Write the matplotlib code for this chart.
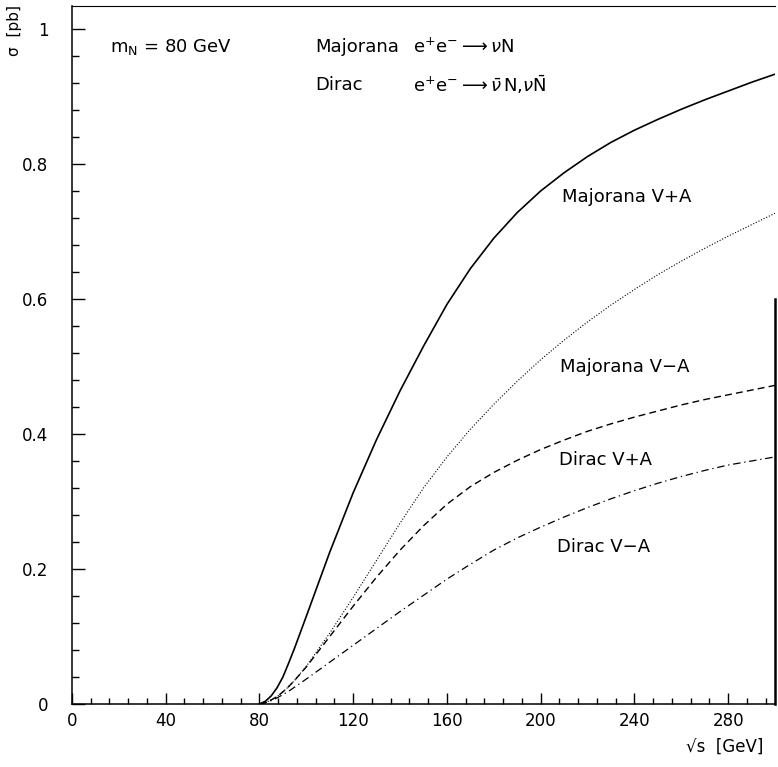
import matplotlib
matplotlib.use('Agg')
import matplotlib.pyplot as plt
from matplotlib.ticker import MultipleLocator

# === Data ===
sqrt_s = [80, 82.5, 85, 87.5, 90, 92.5, 95, 100, 110, 120, 130, 140, 150, 160, 170,
          180, 190, 200, 210, 220, 230, 240, 250, 260, 270, 280, 290, 300]
maj_va = [0, 0.004, 0.012, 0.024, 0.040, 0.061, 0.083, 0.130, 0.225, 0.313, 0.392,
          0.464, 0.530, 0.592, 0.645, 0.690, 0.728, 0.760, 0.787, 0.811, 0.832,
          0.850, 0.866, 0.881, 0.895, 0.908, 0.921, 0.933]
maj_vma = [0, 0.002, 0.006, 0.011, 0.018, 0.026, 0.035, 0.056, 0.105, 0.158, 0.213,
           0.268, 0.320, 0.366, 0.407, 0.444, 0.478, 0.510, 0.539, 0.566, 0.591,
           0.614, 0.636, 0.656, 0.675, 0.693, 0.710, 0.727]
dir_va = [0, 0.002, 0.006, 0.011, 0.018, 0.026, 0.035, 0.055, 0.100, 0.145, 0.188,
          0.228, 0.264, 0.296, 0.322, 0.343, 0.361, 0.377, 0.391, 0.404, 0.415,
          0.425, 0.434, 0.443, 0.451, 0.458, 0.465, 0.472]
dir_vma = [0, 0.002, 0.005, 0.009, 0.014, 0.019, 0.025, 0.037, 0.062, 0.087, 0.112,
           0.137, 0.161, 0.185, 0.207, 0.228, 0.246, 0.262, 0.277, 0.291, 0.304,
           0.316, 0.327, 0.337, 0.346, 0.354, 0.360, 0.366]

x_ticks = [0, 40, 80, 120, 160, 200, 240, 280]
y_ticks = [0, 0.2, 0.4, 0.6, 0.8, 1.0]
y_ticklabels = ['0', '0.2', '0.4', '0.6', '0.8', '1']

# === Style ===
plt.rcParams['font.family'] = ['DejaVu Sans']
plt.rcParams['mathtext.fontset'] = 'dejavusans'

fig = plt.figure(figsize=(7.78, 7.67), dpi=100)
ax = fig.add_axes([72 / 778, 1 - 704 / 767, 703 / 778, 698 / 767])

ax.plot(sqrt_s, maj_va, color='black', lw=1.2, ls='-')
ax.plot(sqrt_s, maj_vma, color='black', lw=0.8, ls=(0, (1, 1.6)))
ax.plot(sqrt_s, dir_va, color='black', lw=1.0, ls=(0, (5, 3)))
ax.plot(sqrt_s, dir_vma, color='black', lw=0.9, ls=(0, (6, 3, 1, 3)))

ax.set_xlim(0, 300)
ax.set_ylim(0, 1.034)

ax.set_xticks(x_ticks)
ax.xaxis.set_minor_locator(MultipleLocator(8))
ax.set_yticks(y_ticks)
ax.set_yticklabels(y_ticklabels)
ax.yaxis.set_minor_locator(MultipleLocator(0.04))

ax.tick_params(axis='x', which='major', direction='in', length=8, width=1,
               labelsize=12, pad=6)
ax.tick_params(axis='x', which='minor', direction='in', length=4.3, width=1)
ax.tick_params(axis='y', which='major', direction='in', length=9.4, width=1,
               labelsize=12, pad=17)
ax.tick_params(axis='y', which='minor', direction='in', length=5, width=1)

for s in ['left', 'bottom']:
    ax.spines[s].set_linewidth(1.1)
ax.spines['top'].set_linewidth(0.8)
ax.spines['right'].set_linewidth(1.8)
ax.spines['right'].set_bounds(0, 0.6)

# === Annotations ===
fs = 13
ax.text(16.2, 0.973, r'm$_{\mathrm{N}}$ = 80 GeV', fontsize=fs, va='center')
ax.text(103.7, 0.973, 'Majorana', fontsize=fs, va='center')
ax.text(145.5, 0.973, r'e$^{+}$e$^{-}$$\longrightarrow$$\nu$N',
        fontsize=fs, va='center')
ax.text(103.7, 0.917, 'Dirac', fontsize=fs, va='center')
ax.text(145.5, 0.917,
        r'e$^{+}$e$^{-}$$\longrightarrow$$\bar{\nu}\,$N,$\nu\bar{\mathrm{N}}$',
        fontsize=fs, va='center')

ax.text(209, 0.751, 'Majorana V+A', fontsize=fs, va='center')
ax.text(208.3, 0.499, 'Majorana V\u2212A', fontsize=fs, va='center')
ax.text(207.9, 0.361, 'Dirac V+A', fontsize=fs, va='center')
ax.text(207, 0.233, 'Dirac V\u2212A', fontsize=fs, va='center')

fig.text(14 / 778, 1 - 30 / 767, '\u03c3  [pb]', rotation=90, fontsize=11,
         ha='center', va='center')
fig.text(725 / 778, 1 - 747 / 767, '\u221as  [GeV]', fontsize=12,
         ha='center', va='center')

fig.savefig('out.png', dpi=100)
